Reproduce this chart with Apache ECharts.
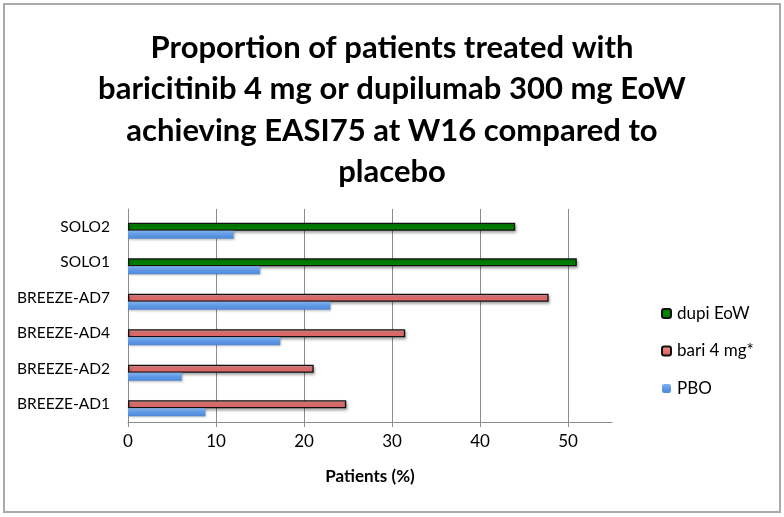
<!DOCTYPE html>
<html>
<head>
<meta charset="utf-8">
<script src="https://cdn.jsdelivr.net/npm/echarts@6/dist/echarts.min.js"></script>
<style>
html,body{margin:0;padding:0;background:#fff;}
#wrap{position:absolute;left:3px;top:3px;width:774px;height:506px;border:2px solid #a9a9a9;box-sizing:content-box;}
#chart{position:absolute;left:0;top:0;width:784px;height:517px;}
</style>
</head>
<body>
<div id="wrap"></div>
<div id="chart"></div>
<script>
const categories = ['BREEZE-AD1','BREEZE-AD2','BREEZE-AD4','BREEZE-AD7','SOLO1','SOLO2'];
const dupiEoW = [null, null, null, null, 51, 44];
const bari4mg = [24.8, 21.1, 31.5, 47.8, null, null];
const pbo = [8.8, 6.1, 17.3, 23, 15, 12];
const xTicks = [0, 10, 20, 30, 40, 50];
const titleLines = ['Proportion of patients treated with','baricitinib 4 mg or dupilumab 300 mg EoW','achieving EASI75 at W16 compared to','placebo'];

const chart = echarts.init(document.getElementById('chart'), null, {renderer:'canvas'});
const shadow = {shadowColor:'rgba(0,0,0,0.35)', shadowBlur:3, shadowOffsetX:1, shadowOffsetY:2};
chart.setOption({
  animation:false,
  backgroundColor:'transparent',
  title:{
    text:titleLines.join('\n'),
    left:'center', top:22,
    textStyle:{fontFamily:'Lato', fontWeight:'bold', fontSize:31, lineHeight:41.5, color:'#000'}
  },
  legend:{
    orient:'vertical', left:656, top:300,
    itemWidth:9, itemHeight:9, itemGap:20.5,
    data:['dupi EoW','bari 4 mg*','PBO'],
    textStyle:{fontFamily:'Lato', fontSize:17, color:'#000', padding:[0,0,0,1]}
  },
  grid:{left:128, right:172, top:209, bottom:95},
  xAxis:{
    type:'value', min:0, max:55, interval:10,
    name:'Patients (%)', nameLocation:'middle', nameGap:46,
    nameTextStyle:{fontFamily:'Lato', fontWeight:'bold', fontSize:17, color:'#000'},
    axisLine:{show:true, lineStyle:{color:'#8c8c8c', width:1}},
    axisTick:{show:true, length:5, lineStyle:{color:'#8c8c8c'}},
    axisLabel:{fontFamily:'Lato', fontSize:17, color:'#000', margin:11, showMaxLabel:false,
      formatter:function(v){ return xTicks.indexOf(v) >= 0 ? String(v) : ''; }},
    splitLine:{show:true, showMaxLine:false, lineStyle:{color:'#8c8c8c', width:1}}
  },
  yAxis:{
    type:'category', data:categories,
    axisLine:{show:true, lineStyle:{color:'#8c8c8c', width:1}},
    axisTick:{show:false},
    axisLabel:{fontFamily:'Lato', fontSize:15.5, color:'#000', margin:18}
  },
  series:[
    {name:'_gap', type:'bar', data:categories.map(()=>null), barWidth:8, barGap:'0%', silent:true},
    {name:'dupi EoW', type:'bar', stack:'t', data:dupiEoW, barWidth:8,
      itemStyle:Object.assign({color:'#008200', borderColor:'#111', borderWidth:1.3}, shadow)},
    {name:'bari 4 mg*', type:'bar', stack:'t', data:bari4mg, barWidth:8,
      itemStyle:Object.assign({color:new echarts.graphic.LinearGradient(0,0,0,1,[{offset:0,color:'#f29a9a'},{offset:0.5,color:'#e87272'},{offset:1,color:'#d85c5c'}]), borderColor:'#111', borderWidth:1.3}, shadow)},
    {name:'PBO', type:'bar', data:pbo, barWidth:8, barGap:'0%',
      itemStyle:Object.assign({color:new echarts.graphic.LinearGradient(0,0,0,1,[{offset:0,color:'#7fb0ee'},{offset:0.5,color:'#5f98e4'},{offset:1,color:'#4f88d6'}])}, {shadowColor:'rgba(0,0,0,0.25)', shadowBlur:2, shadowOffsetX:1, shadowOffsetY:1})}
  ]
});
</script>
</body>
</html>
